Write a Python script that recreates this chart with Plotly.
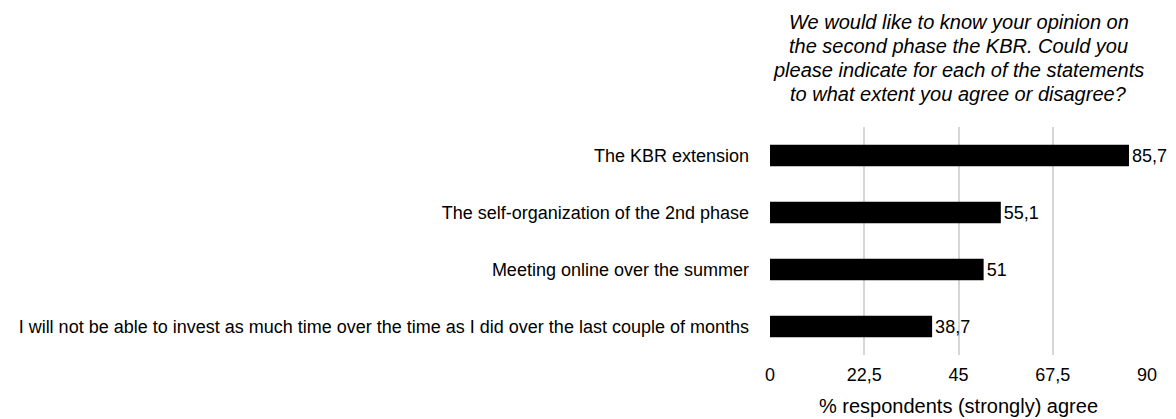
import plotly.graph_objects as go

categories = [
    "The KBR extension",
    "The self-organization of the 2nd phase",
    "Meeting online over the summer",
    "I will not be able to invest as much time over the time as I did over the last couple of months",
]
values = [85.7, 55.1, 51, 38.7]
tick_vals = [0, 22.5, 45, 67.5, 90]
tick_text = ["0", "22,5", "45", "67,5", "90"]
title_lines = [
    "We would like to know your opinion on",
    "the second phase the KBR. Could you",
    "please indicate for each of the statements",
    "to what extent you agree or disagree?",
]
x_title = "% respondents (strongly) agree"

labels = [("%g" % v).replace(".", ",") for v in values]

FONT = "Liberation Sans, Arial, Helvetica, sans-serif"
M_L, M_R, M_T, M_B = 762, 37, 119, 72
H = 419
plot_h = H - M_T - M_B

fig = go.Figure(go.Bar(
    y=categories, x=values, orientation="h",
    marker=dict(color="black", line=dict(width=0)),
    text=labels, textposition="outside", cliponaxis=False,
    textfont=dict(color="black", size=18, family=FONT),
    width=0.375,
))

# title lines as stacked annotations (tight line spacing as in reference)
line_centers_px = [14, 38, 62, 85.5]  # from figure top
for txt, cy in zip(title_lines, line_centers_px):
    fig.add_annotation(
        text="<i>%s</i>" % txt, xref="paper", yref="paper",
        x=0.5, y=(H - M_B - cy) / plot_h, xanchor="center", yanchor="middle",
        showarrow=False, font=dict(size=20, color="black", family=FONT),
    )

fig.update_layout(
    width=1176, height=H,
    margin=dict(l=M_L, r=M_R, t=M_T, b=M_B, autoexpand=False),
    paper_bgcolor="white", plot_bgcolor="white",
    font=dict(family=FONT, size=18, color="black"),
    showlegend=False,
    xaxis=dict(range=[0, 90], tickvals=tick_vals, ticktext=tick_text,
               showgrid=True, gridcolor="#d6d6d6", gridwidth=2,
               zeroline=False, showline=False, ticks="",
               tickfont=dict(size=18), ticklabelstandoff=7,
               title=dict(text=x_title, font=dict(size=20), standoff=14)),
    yaxis=dict(autorange="reversed", showgrid=False, ticks="", showline=False,
               ticklabelstandoff=20, tickfont=dict(size=18)),
)

fig.write_html("out.html")
